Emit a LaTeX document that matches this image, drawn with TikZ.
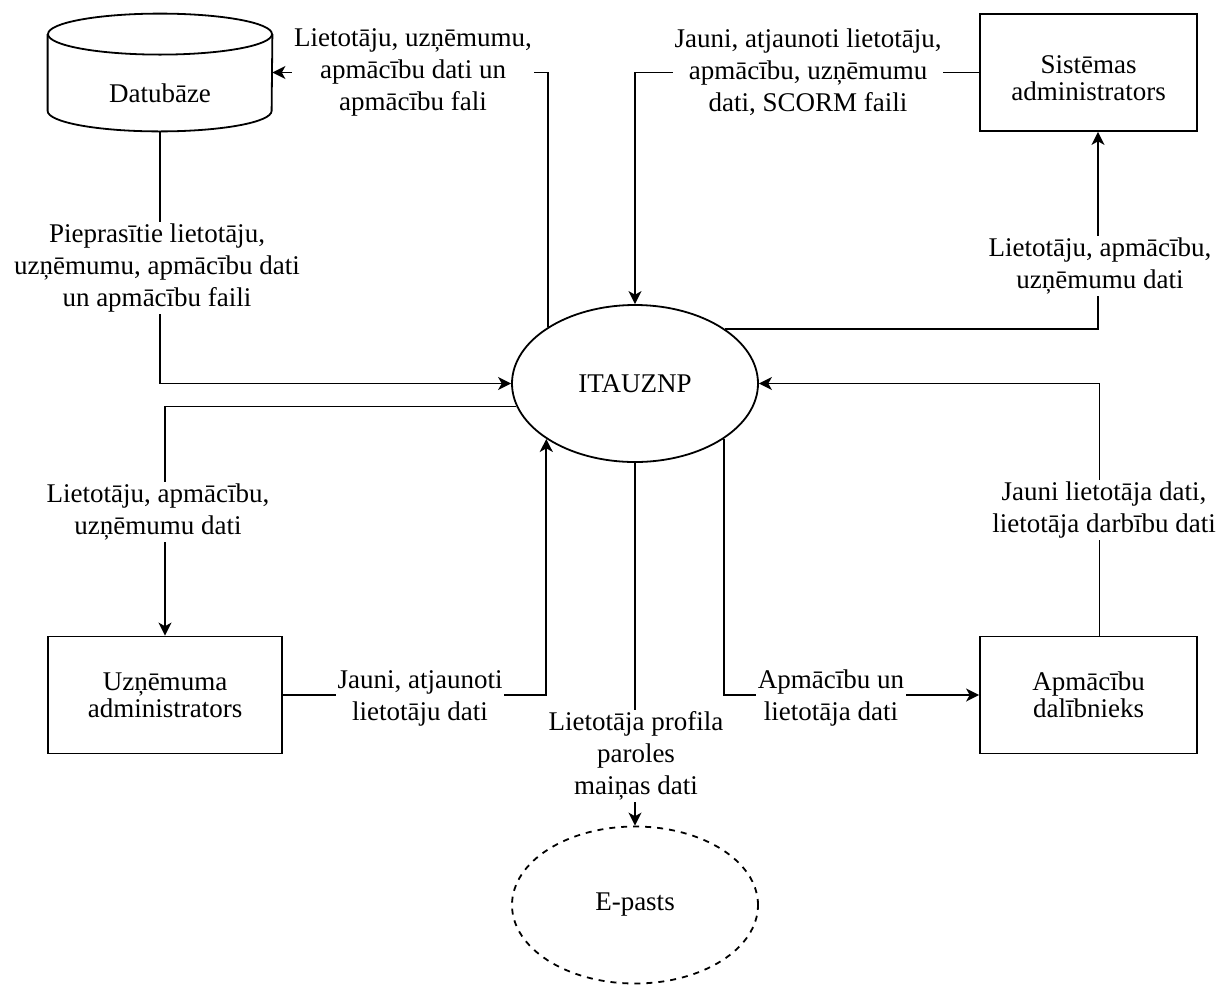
\documentclass[tikz,border=0pt]{standalone}
\usepackage{fontspec}
\setmainfont{Liberation Serif}
\usetikzlibrary{shapes.geometric,arrows.meta}
\begin{document}
\begin{tikzpicture}[x=0.5pt,y=-0.5pt,
  every node/.style={font=\fontsize{13.5pt}{13.5pt}\selectfont},
  box/.style={draw,line width=0.9pt,rectangle,minimum width=#1,minimum height=58.5pt,align=center,inner sep=0pt},
  proc/.style={draw,ellipse,line width=0.9pt,minimum width=123pt,minimum height=78.5pt,inner sep=0pt},
  lbl/.style={fill=white,align=center,inner sep=1pt,font=\fontsize{13.5pt}{16pt}\selectfont},
  arr/.style={draw,line width=0.9pt,-{Stealth[length=6.5pt,width=6.5pt,inset=1.8pt]}},
  ln/.style={line width=0.9pt}
]
\useasboundingbox (0,0) rectangle (1221,992);

% Database (cylinder)
\node[minimum width=112pt,minimum height=58.5pt,inner sep=0pt] (db) at (160,72.5) {};
\draw[ln] ([yshift=-10.25pt]db.north west) -- ([yshift=10.25pt]db.south west)
  arc[start angle=180,end angle=360,x radius=56pt,y radius=10.25pt]
  -- ([yshift=-10.25pt]db.north east);
\draw[ln] ([yshift=-10.25pt]db.north) ellipse[x radius=56pt,y radius=10.25pt];
\node (dbt) at (160,93) {Datubāze};

% Other nodes
\node[box=108.5pt] (sys) at (1088.5,72.5) {};
\node[align=center] (syst) at (1088.5,78) {Sistēmas\\administrators};
\node[box=117pt] (uzn) at (165,695) {Uzņēmuma\\administrators};
\node[box=108.5pt] (dal) at (1088.5,695) {Apmācību\\dalībnieks};
\node[proc] (itn) at (635,383.5) {ITAUZNP};
\node[proc,dash pattern=on 3pt off 3pt] (ep) at (635,905) {E-pasts};

% Connectors
\draw[arr] (itn.147.5) |- (db.east);
\draw[arr] (db.south) |- (itn.west);
\draw[arr] (itn.191.3) -| (uzn.north);
\draw[arr] (uzn.east) -| (itn.212.5);
\draw[arr] (sys.west) -| (itn.north);
\draw[arr] (itn.31.9) -| ([xshift=4.75pt]sys.south);
\draw[arr] ([xshift=5.5pt]dal.north) |- (itn.east);
\draw[arr] (itn.328.1) |- (dal.west);
\draw[arr] (itn.south) -- (ep.north);

% Labels
\node[lbl] (l1) at (413,72) {Lietotāju, uzņēmumu,\\apmācību dati un\\apmācību fali};
\node[lbl] (l5) at (808,72) {Jauni, atjaunoti lietotāju,\\apmācību, uzņēmumu\\dati, SCORM faili};
\node[lbl] (l6) at (1100,266) {Lietotāju, apmācību,\\uzņēmumu dati};
\node[lbl] (l2) at (157,268) {Pieprasītie lietotāju,\\uzņēmumu, apmācību dati\\un apmācību faili};
\node[lbl] (l3) at (158,512) {Lietotāju, apmācību,\\uzņēmumu dati};
\node[lbl] (l7) at (1104,510) {Jauni lietotāja dati,\\lietotāja darbību dati};
\node[lbl] (l4) at (420,698) {Jauni, atjaunoti\\lietotāju dati};
\node[lbl] (l8) at (831,698) {Apmācību un\\lietotāja dati};
\node[lbl] (l9) at (636,756) {Lietotāja profila\\paroles\\maiņas dati};
\end{tikzpicture}
\end{document}
